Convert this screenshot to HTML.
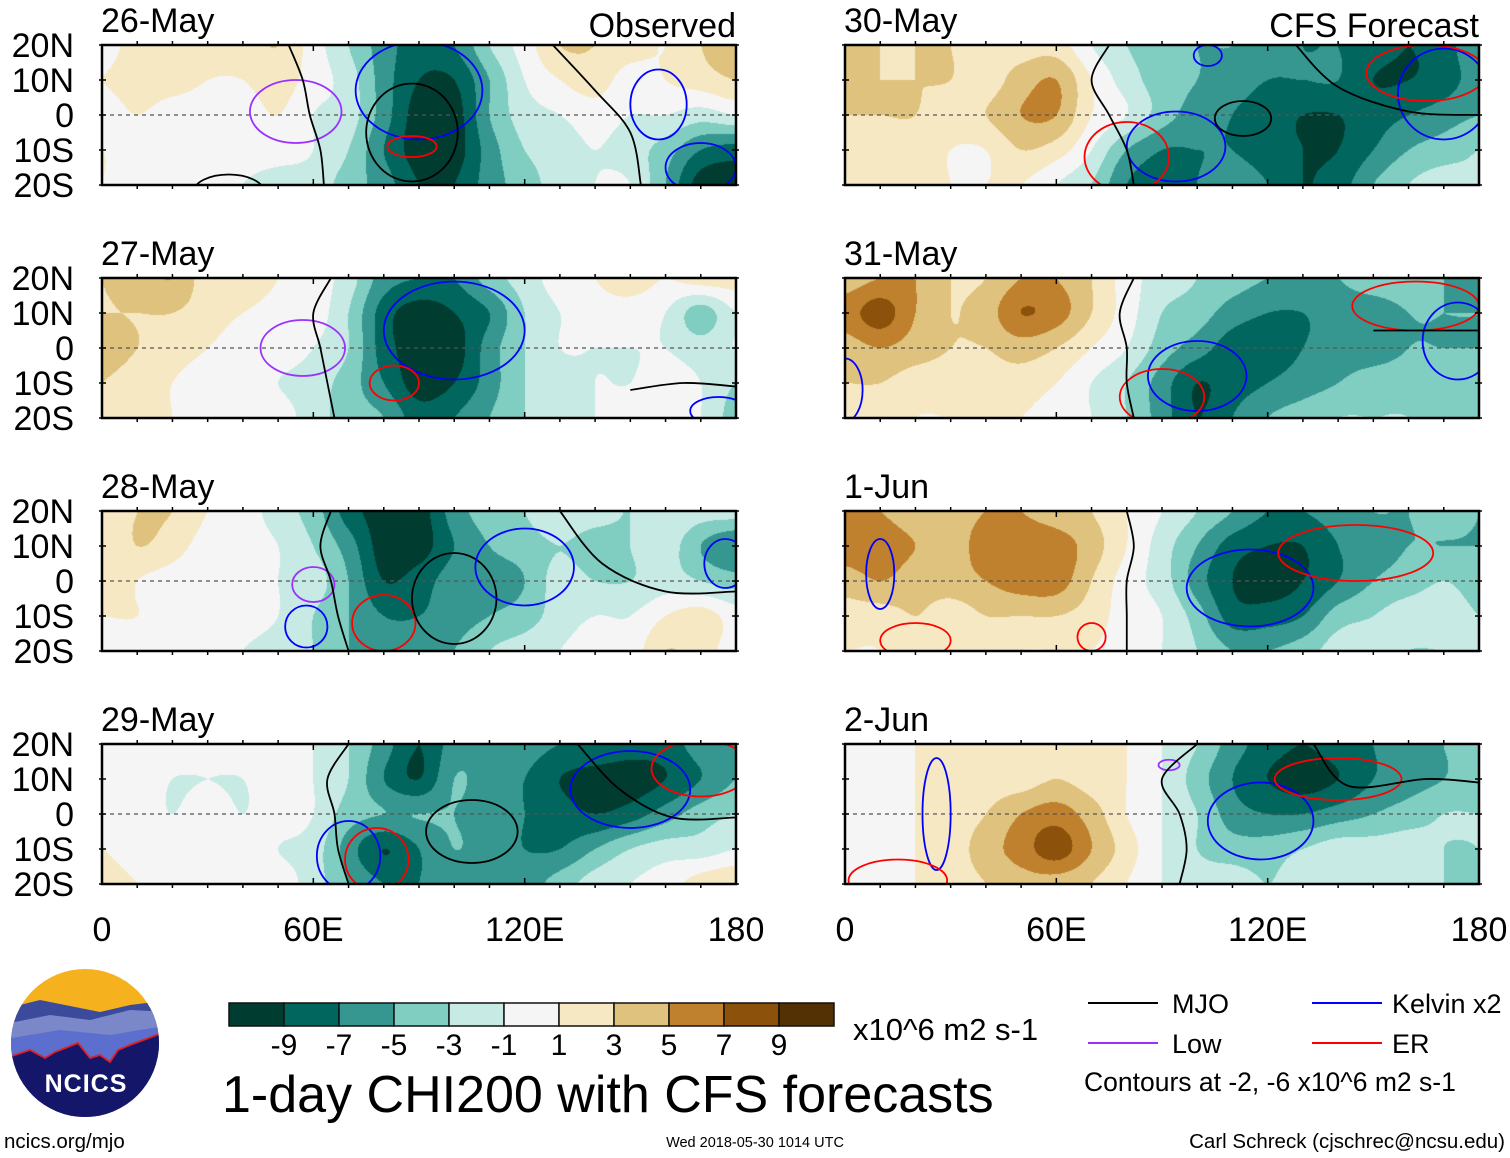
<!DOCTYPE html>
<html><head><meta charset="utf-8"><style>
body{margin:0;background:#fff;width:1510px;height:1158px;overflow:hidden;position:relative;font-family:"Liberation Sans",sans-serif}
canvas,svg{position:absolute;left:0;top:0}
</style></head><body>
<canvas id="fld" width="1510" height="1158"></canvas>
<svg id="ov" width="1510" height="1158" font-family="Liberation Sans, sans-serif"></svg>
<script>
const lons=[0,10,20,30,40,50,60,70,80,90,100,110,120,130,140,150,160,170,180];
const lats=[20,10,0,-10,-20];
const panelTitles=["26-May","27-May","28-May","29-May","30-May","31-May","1-Jun","2-Jun"];
const levels=[-9,-7,-5,-3,-1,1,3,5,7,9];
const levelColors=["#003c30","#01665e","#35978f","#80cdc1","#c7eae5","#f5f5f5","#f6e8c3","#dfc27d","#bf812d","#8c510a","#543005"];
const yTickLabels=["20N","10N","0","10S","20S"];
const xTickLabels=["0","60E","120E","180"];
const p1=[[0,2,3,2,2,3,0,-3,-6,-8,-7,-3,0,3,3,2,1,3,4],[1,2,2,1,1,2,0,-2,-6,-9,-9,-5,-1,1,2,0,1,2,3],[0,1,0,0,0,1,-1,-2,-6,-10,-10,-5,-2,-1,0,-1,-1,-2,-1],[1,0,0,0,0,0,-1,-3,-7,-10,-10,-6,-3,-2,-1,-2,-4,-7,-8],[1,0,0,0,-1,-2,-2,-4,-6,-9,-9,-6,-4,-2,-1,-1,-5,-10,-10]];
const p2=[[3,4,5,2,3,1,0,-2,-6,-7,-7,-4,-2,0,1,2,1,2,2],[3,3,3,2,1,0,0,-3,-8,-10,-9,-7,-3,-1,0,0,-1,-4,-1],[4,3,2,1,0,0,-1,-3,-8,-10,-10,-6,-3,-1,-1,-1,-1,-2,-1],[3,2,1,0,0,-1,-2,-4,-7,-10,-9,-6,-3,-2,-1,-1,0,-1,-3],[3,2,1,0,1,0,-2,-4,-5,-8,-7,-5,-3,-2,-1,0,0,-1,-4]];
const p3=[[2,3,3,1,0,-2,-4,-8,-10,-10,-6,-4,-3,-1,-2,-3,-1,-2,-2],[1,3,2,0,0,-1,-3,-6,-10,-10,-7,-5,-4,-3,-4,-3,-2,-5,-7],[3,1,0,-1,0,-1,-2,-5,-9,-8,-6,-6,-5,-2,-3,-3,-2,-3,-4],[1,1,0,0,0,-1,-3,-5,-7,-7,-6,-5,-4,-2,-1,-1,1,2,0],[1,0,0,0,-1,-2,-3,-5,-6,-6,-5,-3,-2,-1,0,0,3,2,0]];
const p4=[[1,0,0,0,0,0,-1,-3,-6,-9,-6,-5,-6,-7,-7,-8,-8,-6,-5],[0,0,-1,-1,-1,0,-1,-3,-7,-9,-5,-6,-7,-9,-10,-10,-9,-7,-5],[0,0,-1,0,-1,0,-1,-4,-5,-5,-5,-6,-7,-8,-9,-8,-6,-4,-3],[1,0,0,0,0,-1,-2,-6,-9,-7,-5,-6,-7,-7,-5,-3,-2,-2,-1],[2,1,0,0,0,0,-2,-5,-7,-7,-6,-6,-6,-4,-2,-1,0,2,3]];
const p5=[[3,3,3,3,2,2,2,-1,-3,-4,-5,-5,-6,-7,-7,-8,-9,-8,-5],[3,3,3,3,2,4,5,1,-2,-4,-5,-6,-7,-7,-7,-9,-9,-8,-6],[3,3,3,2,3,5,5,1,-1,-4,-6,-7,-8,-9,-9,-8,-7,-6,-5],[2,2,2,1,1,3,2,-1,-5,-7,-7,-7,-8,-9,-9,-7,-5,-4,-3],[1,2,2,1,1,1,-1,-3,-7,-8,-7,-6,-7,-9,-8,-5,-3,-2,-3]];
const p6=[[4,5,5,3,3,5,5,3,0,-2,-3,-4,-5,-5,-5,-4,-4,-5,-5],[6,8,5,3,4,7,6,3,0,-3,-4,-6,-7,-7,-6,-6,-5,-5,-5],[4,5,4,3,3,4,3,1,-1,-4,-6,-8,-8,-7,-6,-6,-5,-5,-5],[3,3,2,2,2,2,1,-1,-3,-6,-9,-8,-7,-6,-5,-4,-4,-4,-5],[1,2,1,1,1,1,0,-1,-3,-6,-9,-7,-5,-4,-3,-3,-3,-4,-5]];
const p7=[[5,5,4,4,5,5,4,3,1,-1,-3,-5,-7,-7,-6,-5,-5,-4,-5],[6,6,5,4,6,6,6,4,1,-2,-5,-8,-9,-9,-7,-6,-5,-5,-5],[4,5,4,4,5,6,6,3,0,-2,-6,-9,-10,-9,-7,-5,-4,-3,-4],[2,2,3,2,3,3,3,2,0,-1,-4,-8,-8,-7,-4,-3,-2,-2,-3],[1,1,2,2,2,1,1,1,0,-1,-3,-5,-5,-4,-2,-2,-3,-3,-3]];
const p8=[[1,1,1,2,2,2,2,2,1,-1,-3,-6,-8,-9,-8,-7,-6,-5,-4],[0,0,1,2,2,2,3,2,1,-1,-4,-7,-9,-10,-9,-7,-6,-5,-4],[-1,0,1,2,3,5,6,4,1,-1,-3,-6,-7,-7,-6,-5,-4,-3,-3],[0,0,1,2,4,6,8,5,2,-1,-3,-4,-4,-3,-2,-2,-2,-3,-3],[0,0,1,2,3,4,4,3,1,-1,-2,-2,-3,-2,-2,-1,-2,-3,-3]];
const fields=[p1,p2,p3,p4,p5,p6,p7,p8];
// contour loops: [type, lonCenter, latCenter, lonRadius, latRadius]
const loops=[
 [["low",55,1,13,9],["kel",90,7,18,14],["er",88,-9,7,3],["mjo",88,-5,13,14],["mjo",36,-22,10,5],["kel",170,-15,10,7],["kel",158,3,8,10]],
 [["low",57,0,12,8],["kel",100,5,20,14],["er",83,-10,7,5],["kel",175,-18,8,4]],
 [["low",60,-1,6,5],["kel",58,-13,6,6],["er",80,-12,9,8],["mjo",100,-5,12,13],["kel",120,4,14,11],["kel",177,5,6,7]],
 [["kel",70,-12,9,10],["er",78,-13,9,9],["mjo",105,-5,13,9],["kel",150,7,17,11],["er",170,13,14,8]],
 [["kel",94,-9,14,10],["er",80,-12,12,10],["mjo",113,-1,8,5],["kel",170,6,13,13],["er",165,12,17,8],["kel",103,17,4,3]],
 [["kel",100,-8,14,10],["er",90,-14,12,8],["er",162,12,18,7],["kel",174,2,10,11],["kel",0,-12,5,9]],
 [["kel",115,-2,18,11],["er",145,8,22,8],["kel",10,2,4,10],["er",20,-17,10,5],["er",70,-16,4,4]],
 [["kel",118,-2,15,11],["er",140,10,18,6],["kel",26,0,4,16],["er",15,-19,14,6],["low",92,14,3,1.5]]
];
// MJO black lines per panel, each a list of [lon,lat]
const mjo=[
 [[[53,20],[57,10],[59,0],[62,-10],[63,-20]],[[128,20],[140,7],[150,-5],[153,-20]]],
 [[[65,20],[60,10],[62,0],[64,-10],[66,-20]],[[150,-12],[165,-10],[180,-11]]],
 [[[65,20],[62,10],[65,0],[67,-10],[70,-20]],[[130,20],[142,5],[160,-3],[180,-3]]],
 [[[70,20],[64,10],[66,0],[67,-10],[70,-20]],[[135,20],[147,7],[162,-1],[180,-1]]],
 [[[75,20],[70,10],[75,0],[80,-10],[82,-20]],[[128,20],[140,8],[160,1],[180,0]]],
 [[[82,20],[78,10],[80,0],[80,-10],[82,-20]],[[150,5],[165,5],[180,5]]],
 [[[80,20],[82,10],[80,0],[80,-10],[80,-20]]],
 [[[100,20],[90,10],[95,0],[97,-10],[95,-20]],[[133,20],[143,8],[165,10],[180,9]]]
];
const canvas=document.getElementById('fld');const ctx=canvas.getContext('2d');
const PW=634,PH=140;
const panelX=[102,102,102,102,845,845,845,845];
const panelY=[45,278,511,744,45,278,511,744];
function xS(i,lon){return panelX[i]+lon/180*PW}
function yS(i,lat){return panelY[i]+(20-lat)/40*PH}
function colorFor(v){let k=0;while(k<levels.length&&v>=levels[k])k++;return levelColors[k]}
function cr(p0,p1,p2,p3,t){return 0.5*((2*p1)+(-p0+p2)*t+(2*p0-5*p1+4*p2-p3)*t*t+(-p0+3*p1-3*p2+p3)*t*t*t)}
function g(f,j,i){j=Math.max(0,Math.min(4,j));i=Math.max(0,Math.min(18,i));return f[j][i]}
function sample(f,lon,lat){
 const fx=lon/10,fy=(20-lat)/10;let i=Math.min(17,Math.floor(fx)),j=Math.min(3,Math.floor(fy));
 const tx=fx-i,ty=fy-j;const r=[];
 for(let dj=-1;dj<=2;dj++){r.push(cr(g(f,j+dj,i-1),g(f,j+dj,i),g(f,j+dj,i+1),g(f,j+dj,i+2),tx))}
 return cr(r[0],r[1],r[2],r[3],ty);
}
fields.forEach((f,p)=>{
 for(let py=0;py<PH;py++){for(let px=0;px<PW;px++){
  const lon=(px+0.5)/PW*180,lat=20-(py+0.5)/PH*40;
  ctx.fillStyle=colorFor(sample(f,lon,lat));ctx.fillRect(panelX[p]+px,panelY[p]+py,1,1);
 }}
});
const NS='http://www.w3.org/2000/svg';const ov=document.getElementById('ov');
function mk(tag,attrs,parent){const e=document.createElementNS(NS,tag);for(const k in attrs)e.setAttribute(k,attrs[k]);(parent||ov).appendChild(e);return e}
const typeColor={low:"#9b30ff",kel:"#0000ff",er:"#ff0000",mjo:"#000000"};
function smoothPath(pts){let d='M'+pts[0][0]+' '+pts[0][1];
 for(let k=0;k<pts.length-1;k++){const p0=pts[Math.max(0,k-1)],p1=pts[k],p2=pts[k+1],p3=pts[Math.min(pts.length-1,k+2)];
  d+=' C'+(p1[0]+(p2[0]-p0[0])/6)+' '+(p1[1]+(p2[1]-p0[1])/6)+' '+(p2[0]-(p3[0]-p1[0])/6)+' '+(p2[1]-(p3[1]-p1[1])/6)+' '+p2[0]+' '+p2[1];}
 return d;}
for(let p=0;p<8;p++){
 const gg=mk('g',{});
 
 
 const cp=mk('clipPath',{id:'cp'+p},gg);mk('rect',{x:panelX[p],y:panelY[p],width:PW,height:PH},cp);
 const cg=mk('g',{'clip-path':'url(#cp'+p+')'},gg);
 const eq=mk('line',{x1:panelX[p],x2:panelX[p]+PW,y1:yS(p,0),y2:yS(p,0),stroke:'#555','stroke-dasharray':'4,4','stroke-width':1.3},cg);
 
 loops[p].forEach(l=>{
  const e=mk('ellipse',{cx:xS(p,l[1]),cy:yS(p,l[2]),rx:l[3]/180*PW,ry:l[4]/40*PH,fill:'none',stroke:typeColor[l[0]],'stroke-width':1.8},cg);
  
 });
 mjo[p].forEach(line=>{
  const pts=line.map(q=>[xS(p,q[0]),yS(p,q[1])]);
  const ml=mk('path',{d:smoothPath(pts),fill:'none',stroke:'#000','stroke-width':1.8},cg);
  
 });
 const fr=mk('rect',{x:panelX[p],y:panelY[p],width:PW,height:PH,fill:'none',stroke:'#000','stroke-width':2.5},gg);
 
 for(let lon=0;lon<=180;lon+=10){const big=lon%60==0;const x=xS(p,lon);
  mk('line',{x1:x,x2:x,y1:panelY[p]-(big?0:4),y2:panelY[p]+(big?6:0),stroke:'#000','stroke-width':1.5},gg);
  mk('line',{x1:x,x2:x,y1:panelY[p]+PH-(big?6:0),y2:panelY[p]+PH+(big?0:4),stroke:'#000','stroke-width':1.5},gg);}
 lats.forEach(lat=>{const y=yS(p,lat);
  mk('line',{x1:panelX[p]-3,x2:panelX[p]+4,y1:y,y2:y,stroke:'#000','stroke-width':1.5},gg);
  mk('line',{x1:panelX[p]+PW-4,x2:panelX[p]+PW+3,y1:y,y2:y,stroke:'#000','stroke-width':1.5},gg);});
 const t=mk('text',{x:panelX[p]-1,y:panelY[p]-13,'font-size':34},gg);t.textContent=panelTitles[p];
 
 if(p<4){lats.forEach((lat,k)=>{const tt=mk('text',{x:74,y:yS(p,lat)+12,'font-size':34,'text-anchor':'end'},gg);tt.textContent=yTickLabels[k];
  });}
}
const h1=mk('text',{x:736,y:37,'font-size':34,'text-anchor':'end'});h1.textContent='Observed';

const h2=mk('text',{x:1479,y:37,'font-size':34,'text-anchor':'end'});h2.textContent='CFS Forecast';

[102,845].forEach(x0=>{[0,60,120,180].forEach((lon,k)=>{const t=mk('text',{x:x0+lon/180*PW,y:941,'font-size':34,'text-anchor':'middle'});t.textContent=xTickLabels[k];
 });});
// colorbar
const cb=mk('g',{});
levelColors.forEach((c,k)=>{mk('rect',{x:229+k*55,y:1003,width:55,height:23,fill:c,stroke:'#111','stroke-width':1.5},cb)});
levels.forEach((v,k)=>{const t=mk('text',{x:229+(k+1)*55,y:1055,'font-size':30,'text-anchor':'middle'},cb);t.textContent=v;
 });
function txt(s,x,y,fs,name,anchor){const t=mk('text',{x:x,y:y,'font-size':fs,'text-anchor':anchor||'start'});t.textContent=s;
 return t}
txt('x10^6 m2 s-1',853,1040,31,'colorbar-units');
txt('1-day CHI200 with CFS forecasts',222,1112,52,'chart-title');
const leg=[["MJO","#000",1088,1172,1003],["Kelvin x2","#0000ff",1312,1392,1003],["Low","#9b30ff",1088,1172,1043],["ER","#ff0000",1312,1392,1043]];
leg.forEach(l=>{const ln=mk('line',{x1:l[2],x2:l[2]+70,y1:l[4],y2:l[4],stroke:l[1],'stroke-width':2});
 
 txt(l[0],l[3],l[4]+10,27,'legend-entry');});
txt('Contours at -2, -6 x10^6 m2 s-1',1084,1091,26.5,'contour-note');
txt('ncics.org/mjo',4,1148,20.5,'site-url');
txt('Wed 2018-05-30 1014 UTC',755,1147,14.5,'timestamp','middle');
txt('Carl Schreck (cjschrec@ncsu.edu)',1505,1148,20.5,'author-credit','end');
// logo
const lg=mk('g',{});
const lc=mk('clipPath',{id:'lc'},lg);mk('circle',{cx:85,cy:1043,r:74},lc);
const li=mk('g',{'clip-path':'url(#lc)'},lg);
mk('rect',{x:0,y:960,width:170,height:170,fill:'#f5b21e'},li);
mk('path',{d:'M0 1010 L40 1000 L70 1006 L100 1012 L130 1005 L170 1000 L170 1130 L0 1130Z',fill:'#3b4a9a'},li);
mk('path',{d:'M0 1025 L50 1015 L90 1020 L130 1010 L170 1012 L170 1130 L0 1130Z',fill:'#7a87c8'},li);
mk('path',{d:'M0 1040 L60 1030 L110 1035 L170 1025 L170 1130 L0 1130Z',fill:'#5d6fce'},li);
mk('path',{d:'M0 1060 L30 1050 L45 1058 L55 1052 L78 1043 L90 1058 L100 1055 L110 1062 L118 1050 L130 1045 L170 1030 L170 1130 L0 1130Z',fill:'#14166a',stroke:'#e02020','stroke-width':1.8},li);
const lt=mk('text',{x:86,y:1092,'font-size':25,'font-weight':'bold',fill:'#fff','text-anchor':'middle','letter-spacing':1},lg);lt.textContent='NCICS';
</script>
</body></html>
